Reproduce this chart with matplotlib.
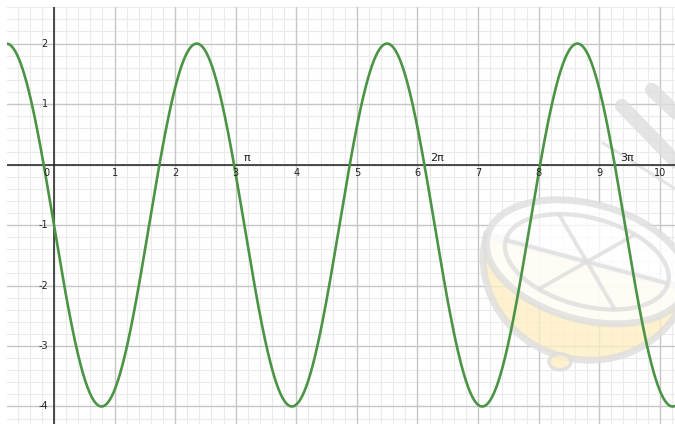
import numpy as np
import matplotlib
matplotlib.use("Agg")
import matplotlib.pyplot as plt
from matplotlib.patches import Ellipse, Polygon

# ---- data (function: max 2, min -4, period pi, y(0) = -1) ----
AMPLITUDE = 3.0
MIDLINE = -1.0
ANG_FREQ = 2.0
PHASE = np.pi / 2
X_RANGE = [-0.78, 10.25]
Y_RANGE = [-4.29, 2.61]
x_ticks = [0, 1, 2, 3, 4, 5, 6, 7, 8, 9, 10]
x_tick_labels = ["0", "1", "2", "3", "4", "5", "6", "7", "8", "9", "10"]
y_ticks = [2, 1, -1, -2, -3, -4]
y_tick_labels = ["2", "1", "-1", "-2", "-3", "-4"]
pi_marks = [np.pi, 2 * np.pi, 3 * np.pi]
pi_labels = ["π", "2π", "3π"]

W, H = 675, 424
fig = plt.figure(figsize=(W / 100, H / 100), dpi=100)
L, T = 6.7, 6.7
ax = fig.add_axes([L / W, 0, (W - L) / W, (H - T) / H])
ax.set_xlim(*X_RANGE)
ax.set_ylim(*Y_RANGE)
for s in ax.spines.values():
    s.set_visible(False)
ax.set_xticks([])
ax.set_yticks([])

# grid
minor = 0.2
for gx in np.arange(np.ceil(X_RANGE[0] / minor) * minor, X_RANGE[1] + 1e-9, minor):
    major = abs(gx - round(gx)) < 1e-6
    ax.axvline(gx, color="#c6c6c6" if major else "#ebebeb", lw=1.0 if major else 0.8, zorder=1 if major else 0)
for gy in np.arange(np.ceil(Y_RANGE[0] / minor) * minor, Y_RANGE[1] + 1e-9, minor):
    major = abs(gy - round(gy)) < 1e-6
    ax.axhline(gy, color="#c6c6c6" if major else "#ebebeb", lw=1.0 if major else 0.8, zorder=1 if major else 0)

# watermark (pixel-based helper)
x0_px, y0_px, sx, sy = 54.0, 164.7, 60.6, 60.5
def P(px, py):
    return ((px - x0_px) / sx, (y0_px - py) / sy)

def ell_pts(cx, cy, a, b, ang_deg, t0, t1, n=80):
    t = np.linspace(np.radians(t0), np.radians(t1), n)
    c, s = np.cos(np.radians(ang_deg)), np.sin(np.radians(ang_deg))
    ex, ey = a * np.cos(t), b * np.sin(t)
    xs = cx + ex * c - ey * s
    ys = cy + ex * s + ey * c
    return [P(u, v) for u, v in zip(xs, ys)]

cx, cy, rot = 587, 262, 15
wm_gray = "#dedede"
wm_alpha = 0.8
bowl = ell_pts(cx, cy, 104, 98, rot, 0, 180)
ax.add_patch(Polygon(bowl, closed=True, facecolor="#fdeec4", edgecolor=wm_gray, lw=5, alpha=wm_alpha, zorder=2))
nub = Ellipse(P(560, 362), 22 / sx, 16 / sy, facecolor="#fdeec4", edgecolor=wm_gray, lw=2.5, alpha=wm_alpha, zorder=2)
ax.add_patch(nub)
rim_out = ell_pts(cx, cy, 103, 58, rot, 0, 360)
ax.add_patch(Polygon(rim_out, closed=True, facecolor="white", edgecolor=wm_gray, lw=5, alpha=wm_alpha, zorder=2))
rim_in = ell_pts(cx, cy, 84, 44, rot, 0, 360)
ax.add_patch(Polygon(rim_in, closed=True, facecolor="none", edgecolor=wm_gray, lw=3.2, alpha=wm_alpha, zorder=2))
for ang in [0, 62, 118]:
    pts = ell_pts(cx, cy, 84, 44, rot, ang, ang + 180, n=2)
    ax.plot([pts[0][0], pts[-1][0]], [pts[0][1], pts[-1][1]], color=wm_gray, lw=2.8,
            alpha=wm_alpha, zorder=2, solid_capstyle="butt")
# diagonal strokes top-right
for (a, b, w) in [((622, 106), (680, 166), 10), ((652, 90), (690, 126), 10), ((603, 143), (680, 192), 2.2)]:
    pa, pb = P(*a), P(*b)
    ax.plot([pa[0], pb[0]], [pa[1], pb[1]], color=wm_gray, lw=w, alpha=wm_alpha, zorder=2,
            solid_capstyle="round")

# axes
ax.axhline(0, color="#222222", lw=1.1, zorder=3)
ax.axvline(0, color="#222222", lw=1.1, zorder=3)

# curve
xs = np.linspace(X_RANGE[0], X_RANGE[1], 2000)
ys = AMPLITUDE * np.cos(ANG_FREQ * xs + PHASE) + MIDLINE
ax.plot(xs, ys, color="#4c9445", lw=1.9, zorder=4, solid_capstyle="round")

# tick labels
fs = 7
for v, lab in zip(x_ticks, x_tick_labels):
    xx = v - 0.13 if v == 0 else v
    ax.text(xx, -0.14, lab, ha="center", va="center", fontsize=fs, color="#222222", zorder=5)
for v, lab in zip(y_ticks, y_tick_labels):
    ax.text(-0.1, v, lab, ha="right", va="center", fontsize=fs, color="#222222", zorder=5)
for v, lab in zip(pi_marks, pi_labels):
    ax.text(v + 0.04, 0.11, lab, ha="center", va="center", fontsize=8, color="#222222", zorder=5)

fig.savefig("out.png", dpi=100)
